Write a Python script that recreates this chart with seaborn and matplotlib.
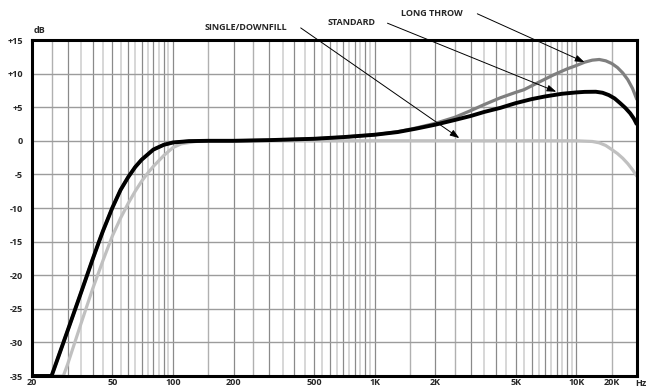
import numpy as np
import pandas as pd
import matplotlib
matplotlib.use("Agg")
import matplotlib.pyplot as plt
import seaborn as sns

# Frequency response curves (Hz, dB)
standard_hz = [20, 25, 30, 35, 40, 43, 45, 50, 55, 60, 65, 70, 80, 90, 100, 120, 150,
               200, 300, 500, 700, 1000, 1300, 1600, 2000, 2500, 3000, 3500, 4200, 5000,
               6000, 7000, 8500, 10000, 11000, 12500, 13500, 14500, 15500, 16500, 17500,
               18500, 19300, 20000]
standard_db = [-35, -35, -28.3, -22.6, -17.6, -15, -13.4, -10.0, -7.3, -5.4, -3.9, -2.8,
               -1.3, -0.6, -0.25, -0.05, 0, 0, 0.1, 0.3, 0.55, 0.9, 1.3, 1.8, 2.4, 3.1,
               3.7, 4.3, 4.9, 5.6, 6.2, 6.6, 7.0, 7.2, 7.28, 7.3, 7.15, 6.8, 6.3, 5.6,
               4.9, 4.1, 3.3, 2.4]

long_throw_hz = [20, 25, 30, 35, 40, 43, 45, 50, 55, 60, 65, 70, 80, 90, 100, 120, 150,
                 200, 300, 500, 700, 1000, 1300, 1600, 2000, 2500, 3000, 3500, 4200,
                 5000, 5500, 6500, 7700, 9000, 10000, 11000, 12000, 13000, 14000, 15000,
                 16000, 17000, 18000, 19000, 20000]
long_throw_db = [-35, -35, -28.3, -22.6, -17.6, -15, -13.4, -10.0, -7.3, -5.4, -3.9, -2.8,
                 -1.3, -0.6, -0.25, -0.05, 0, 0, 0.1, 0.3, 0.55, 0.9, 1.35, 1.9, 2.6,
                 3.5, 4.5, 5.4, 6.4, 7.2, 7.6, 8.7, 9.8, 10.7, 11.2, 11.7, 12.0, 12.1,
                 11.9, 11.5, 10.9, 10.1, 9.1, 7.8, 6.1]

single_hz = [20, 28.6, 30, 35, 40, 45, 50, 55, 60, 65, 70, 75, 80, 90, 100, 110, 130, 160,
             1000, 10000, 12000, 13000, 14000, 15000, 16000, 17000, 18000, 19000, 20000]
single_db = [-35, -35, -33.3, -27.2, -22.0, -17.8, -14.2, -11.5, -9.3, -7.5, -6.0, -4.8,
             -3.8, -2.2, -1.0, -0.45, -0.1, 0, 0, 0, -0.1, -0.3, -0.7, -1.3, -1.9, -2.6,
             -3.4, -4.3, -5.3]

y_ticks = [15, 10, 5, 0, -5, -10, -15, -20, -25, -30, -35]
y_labels = ["+15", "+10", "+5", "0", "-5", "-10", "-15", "-20", "-25", "-30", "-35"]
x_ticks = [20, 50, 100, 200, 500, 1000, 2000, 5000, 10000, 15000]
x_labels = ["20", "50", "100", "200", "500", "1K", "2K", "5K", "10K", "20K"]

sns.set_style("white")
plt.rcParams["font.family"] = ["Open Sans", "DejaVu Sans"]
plt.rcParams["font.weight"] = "bold"
FS = 6.5

fig = plt.figure(figsize=(6.46, 3.87), dpi=100)
ax = fig.add_axes([32 / 646, 1 - 376 / 387, 605 / 646, 336 / 387])

# log-frequency grid: 2..10 in half steps, then 15, per decade
for dec in (10, 100, 1000):
    for m in np.arange(2.0, 10.01, 0.5):
        f = m * dec
        if m == 2.0 and dec == 10:
            continue
        if m == 2.5:
            c, w = "#b0b0b0", 1.0
        elif m % 1 == 0:
            c, w = "#8a8a8a", 0.9
        else:
            c, w = "#cdcdcd", 1.1
        ax.axvline(f, color=c, lw=w, zorder=0)
    ax.axvline(15 * dec, color="#b0b0b0", lw=1.0, zorder=0)
for y in y_ticks[1:-1]:
    ax.axhline(y, color="#9c9c9c", lw=1.0, zorder=0)

curves = [
    ("SINGLE/DOWNFILL", single_hz, single_db, "#c0c0c0", 2.3),
    ("LONG THROW", long_throw_hz, long_throw_db, "#7f7f7f", 2.3),
    ("STANDARD", standard_hz, standard_db, "#000000", 2.8),
]
for name, hz, db, col, lw in curves:
    df = pd.DataFrame({"Hz": hz, "dB": db})
    sns.lineplot(data=df, x="Hz", y="dB", ax=ax, color=col, lw=lw,
                 solid_capstyle="butt", solid_joinstyle="round", zorder=3)

ax.set_xscale("log")
ax.set_xlim(20, 20000)
ax.set_ylim(-35, 15)
ax.set_xticks(x_ticks)
ax.set_xticklabels(x_labels)
ax.set_xticks([], minor=True)
ax.set_yticks(y_ticks)
ax.set_yticklabels(y_labels)
ax.set_xlabel("")
ax.set_ylabel("")
ax.tick_params(axis="both", length=0, labelsize=FS)
ax.tick_params(axis="y", pad=6.5)
ax.tick_params(axis="x", pad=1.2)
for lab in ax.get_xticklabels() + ax.get_yticklabels():
    lab.set_fontweight("bold")
for s in ax.spines.values():
    s.set_visible(True)
    s.set_color("black")
    s.set_linewidth(2.2)
    s.set_zorder(5)

ax.text(20.3, 16.4, "dB", fontsize=FS, fontweight="bold", ha="left", va="center")
fig.text(1.0, 1 - 383 / 387, "Hz", fontsize=FS, fontweight="bold", ha="right",
         va="center")

# callouts
labels = [
    ("SINGLE/DOWNFILL", (229, 16.85), (430, 16.8), (2630, 0.4)),
    ("STANDARD", (768, 17.6), (1158, 17.5), (7960, 7.3)),
    ("LONG THROW", (1912, 19.0), (3230, 18.9), (10980, 11.7)),
]
for txt, tpos, tail, tip in labels:
    ax.text(*tpos, txt, fontsize=FS, fontweight="bold", ha="center", va="center",
            clip_on=False)
    ax.annotate("", xy=tip, xytext=tail, annotation_clip=False,
                arrowprops=dict(arrowstyle="-|>,head_length=0.7,head_width=0.25",
                                color="black", lw=0.7, mutation_scale=8,
                                shrinkA=0, shrinkB=0), zorder=6)

fig.savefig("out.png", dpi=100)
